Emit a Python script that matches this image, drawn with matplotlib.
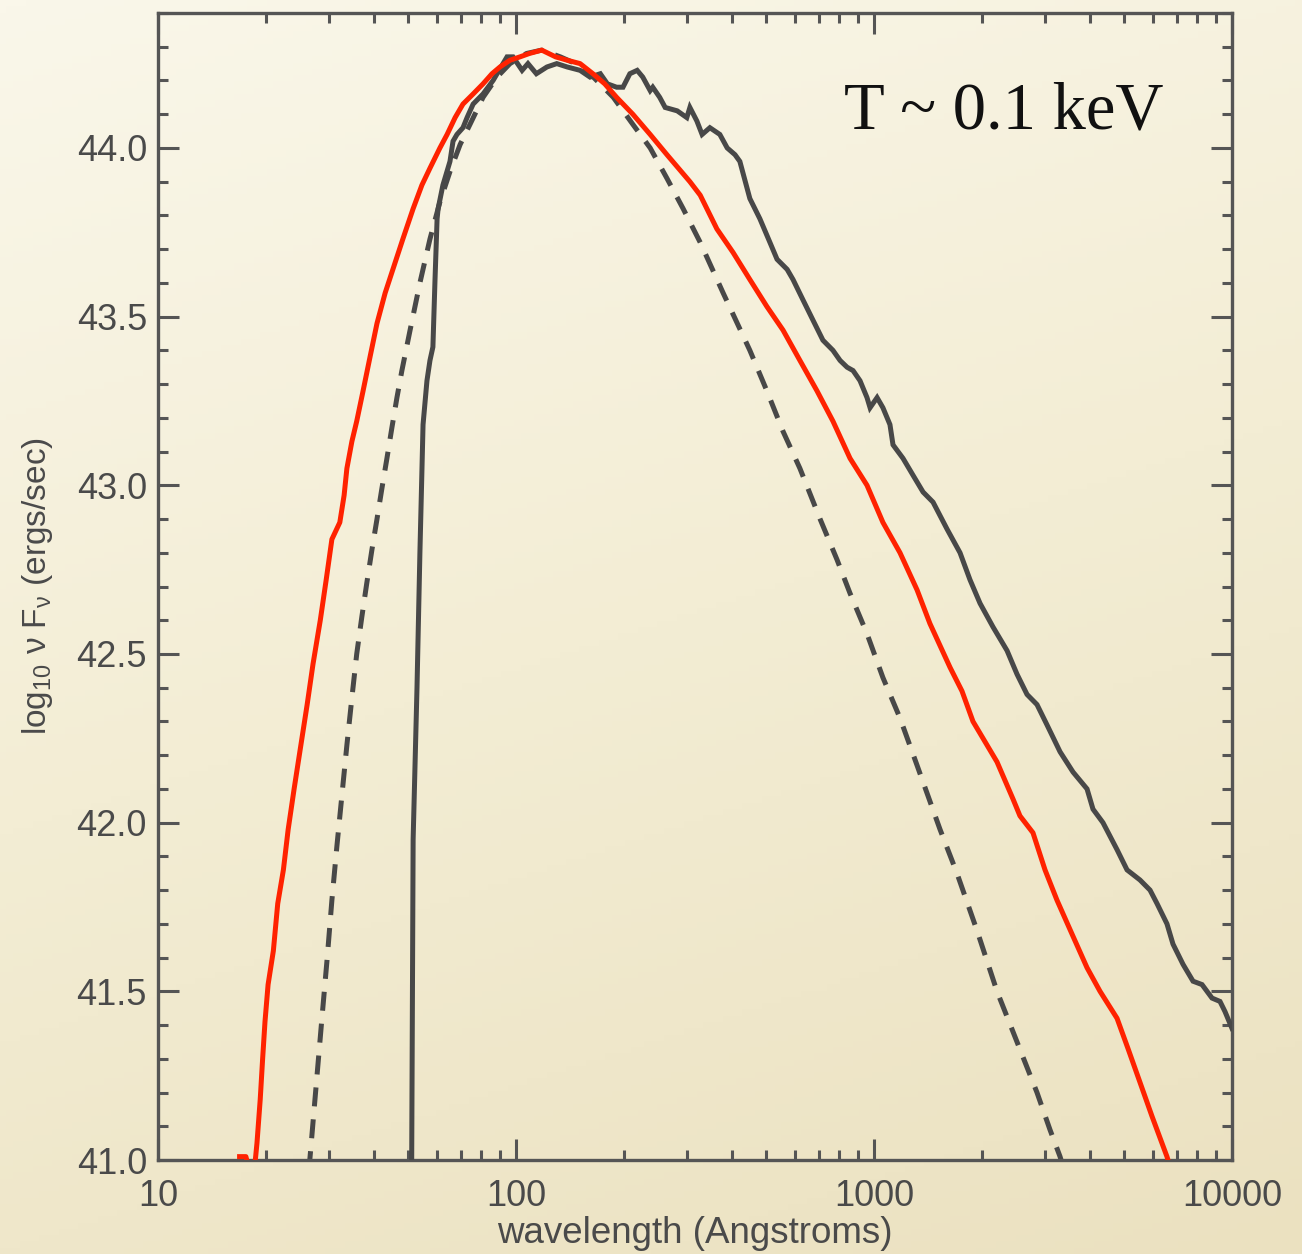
import numpy as np
import matplotlib
matplotlib.use("Agg")
import matplotlib.pyplot as plt
from matplotlib.colors import LinearSegmentedColormap
from matplotlib.ticker import FixedLocator, LogLocator, NullFormatter, MultipleLocator

plt.rcParams['font.family'] = ['Liberation Sans', 'DejaVu Sans']
plt.rcParams['mathtext.fontset'] = 'custom'
plt.rcParams['mathtext.rm'] = 'Liberation Sans'
plt.rcParams['mathtext.it'] = 'Liberation Sans:italic'

# ---------------- data (wavelength in Angstrom, log10 nu F_nu in erg/s) ----------------
red_wave = [16.9, 17.6, 18.1, 18.7, 18.9, 19.3, 19.6, 19.9, 20.3, 21.0, 21.6, 22.4, 23.1,
            24.0, 24.9, 26.1, 27.1, 28.4, 29.5, 30.6, 32.2, 33.1, 33.7, 34.8, 35.9, 37.4,
            39.1, 40.9, 43.1, 45.3, 48.3, 51.6, 54.6, 57.5, 61.3, 64.2, 67.6, 71.1, 75.9,
            80.9, 85.7, 90.2, 96.2, 102.6, 109, 118, 129, 139, 151, 164, 177, 191, 212,
            237, 264, 306, 327, 364, 404, 450, 502, 557, 621, 693, 768, 857, 956, 1059,
            1182, 1319, 1433, 1631, 1761, 1890, 2042, 2206, 2445, 2557, 2780, 3004, 3245,
            3573, 3936, 4279, 4774, 5124, 5534, 5976, 6582, 6798]
red_flux = [41.01, 41.01, 40.96, 41.00, 41.05, 41.18, 41.30, 41.41, 41.52, 41.62, 41.76,
            41.86, 41.98, 42.10, 42.21, 42.35, 42.47, 42.60, 42.72, 42.84, 42.89, 42.97,
            43.05, 43.13, 43.19, 43.28, 43.38, 43.48, 43.57, 43.64, 43.73, 43.82, 43.89,
            43.94, 44.00, 44.04, 44.09, 44.13, 44.16, 44.19, 44.22, 44.24, 44.26, 44.27,
            44.28, 44.29, 44.27, 44.26, 44.25, 44.22, 44.19, 44.15, 44.10, 44.04, 43.98,
            43.90, 43.86, 43.76, 43.69, 43.61, 43.53, 43.46, 43.37, 43.28, 43.19, 43.08,
            43.00, 42.89, 42.80, 42.69, 42.59, 42.46, 42.39, 42.30, 42.24, 42.18, 42.07,
            42.02, 41.97, 41.86, 41.77, 41.67, 41.57, 41.50, 41.42, 41.33, 41.23, 41.13,
            41.01, 40.96]

bb_wave = [26.4, 27.6, 28.7, 29.7, 30.6, 31.6, 32.7, 33.7, 34.8, 35.9, 37.1, 38.3, 39.6,
           40.9, 42.2, 43.6, 45.0, 46.5, 48.0, 50.6, 53.9, 57.5, 61.3, 65.4, 69.8, 74.4,
           80.9, 88.5, 96.2, 107, 118, 133, 154, 168, 187, 212, 237, 264, 293,
           327, 379, 450, 502, 557, 621, 707, 788, 857, 956, 1059, 1182, 1319, 1529, 1705,
           1940, 2206, 2509, 2853, 3101, 3309, 3417]
bb_flux = [40.97, 41.21, 41.42, 41.60, 41.77, 41.93, 42.09, 42.23, 42.37, 42.50, 42.61,
           42.71, 42.81, 42.90, 42.99, 43.08, 43.17, 43.26, 43.34, 43.46, 43.60, 43.73,
           43.84, 43.93, 44.01, 44.07, 44.15, 44.21, 44.25, 44.28, 44.29,
           44.27, 44.24, 44.20, 44.15, 44.07, 44.00, 43.91, 43.82, 43.72, 43.57, 43.40,
           43.28, 43.16, 43.05, 42.90, 42.78, 42.68, 42.56, 42.43, 42.31, 42.17, 41.98,
           41.85, 41.68, 41.50, 41.35, 41.20, 41.09, 41.01, 40.96]

sim_wave = [51.1, 51.6, 52.9, 53.9, 55.0, 56.4, 57.5, 58.6, 59.4, 60.2, 60.6, 62.5, 65.4,
            66.7, 68.4, 71.1, 73.0, 75.9, 80.9, 86.3, 92.0, 94.4, 98.1, 101, 104, 108,
            114, 122, 130, 139, 151, 161, 172, 180, 191, 199, 208, 218, 226, 237, 241,
            252, 261, 282, 300, 306, 320, 331, 348, 371, 389, 409, 422, 450, 480, 512,
            536, 572, 594, 633, 675, 720, 768, 804, 841, 874, 914, 956, 975, 1020, 1059,
            1108, 1130, 1205, 1285, 1371, 1462, 1600, 1739, 1854, 1978, 2150, 2353, 2509,
            2676, 2853, 3042, 3309, 3597, 3936, 4090, 4361, 4774, 5091, 5534, 5903, 6175,
            6582, 6842, 7298, 7783, 8246, 8793, 9257, 9559, 10000]
sim_flux = [40.95, 41.95, 42.40, 42.80, 43.18, 43.31, 43.37, 43.41, 43.61, 43.79, 43.82,
            43.89, 43.96, 44.02, 44.04, 44.06, 44.09, 44.13, 44.16, 44.20, 44.25, 44.27,
            44.27, 44.25, 44.23, 44.25, 44.22, 44.24, 44.25, 44.24, 44.23, 44.21, 44.22,
            44.19, 44.18, 44.18, 44.22, 44.23, 44.21, 44.17, 44.18, 44.15, 44.12, 44.11,
            44.09, 44.12, 44.08, 44.04, 44.06, 44.04, 44.00, 43.98, 43.96, 43.85, 43.79,
            43.72, 43.67, 43.64, 43.61, 43.55, 43.49, 43.43, 43.40, 43.37, 43.35, 43.34,
            43.31, 43.26, 43.23, 43.26, 43.23, 43.18, 43.12, 43.08, 43.03, 42.98, 42.95,
            42.87, 42.80, 42.72, 42.65, 42.58, 42.51, 42.44, 42.38, 42.35, 42.29, 42.21,
            42.15, 42.10, 42.04, 42.00, 41.92, 41.86, 41.83, 41.80, 41.76, 41.70, 41.64,
            41.58, 41.53, 41.52, 41.48, 41.47, 41.44, 41.39]

x_ticks = [10, 100, 1000, 10000]
x_ticklabels = ['10', '100', '1000', '10000']
y_ticks = [41.0, 41.5, 42.0, 42.5, 43.0, 43.5, 44.0]
y_ticklabels = ['41.0', '41.5', '42.0', '42.5', '43.0', '43.5', '44.0']

# ---------------- figure ----------------
W, H = 1302, 1254
fig = plt.figure(figsize=(W / 100, H / 100), dpi=100)

# beige gradient background
bg = fig.add_axes([0, 0, 1, 1], zorder=-10)
bg.set_axis_off()
yy, xx = np.mgrid[0:1:200j, 0:1:200j]
grad = 0.75 * yy + 0.25 * xx
cmap = LinearSegmentedColormap.from_list('beige', ['#faf7ea', '#f3edd4', '#ebe1c0'])
bg.imshow(grad, cmap=cmap, aspect='auto', extent=[0, 1, 0, 1], origin='upper',
          vmin=0, vmax=1)

ax = fig.add_axes([158 / W, 1 - 1160 / H, (1232 - 158) / W, (1160 - 13) / H])
ax.set_facecolor('none')

gray = '#484848'
red = '#ff2200'
lw = 3.6
ax.plot(bb_wave, bb_flux, color=gray, lw=lw, dashes=(3.8, 2.6), solid_capstyle='butt',
        dash_capstyle='butt', zorder=2)
ax.plot(sim_wave, sim_flux, color=gray, lw=lw, solid_joinstyle='miter', zorder=3)
ax.plot(red_wave, red_flux, color=red, lw=lw, zorder=4)

ax.set_xscale('log')
ax.set_xlim(10, 10000)
ax.set_ylim(41.0, 44.4)

ax.xaxis.set_major_locator(FixedLocator(x_ticks))
ax.set_xticklabels(x_ticklabels)
ax.xaxis.set_minor_locator(LogLocator(base=10, subs=np.arange(2, 10)))
ax.xaxis.set_minor_formatter(NullFormatter())
ax.yaxis.set_major_locator(FixedLocator(y_ticks))
ax.set_yticklabels(y_ticklabels)
ax.yaxis.set_minor_locator(MultipleLocator(0.1))

spine_c = '#555555'
for s in ax.spines.values():
    s.set_color(spine_c)
    s.set_linewidth(2.4)

ax.tick_params(which='both', direction='in', top=True, right=True, color=spine_c,
               width=2.2, labelcolor='#4a4a4a', labelsize=26)
ax.tick_params(which='major', length=15)
ax.tick_params(which='minor', length=7.5)
ax.tick_params(axis='y', which='major', pad=8)
ax.tick_params(axis='x', which='major', pad=14)

ax.set_xlabel('wavelength (Angstroms)', fontsize=26.5, color='#4a4a4a')
ax.xaxis.set_label_coords(0.5, -0.049)
ax.set_ylabel(r'log$_\mathrm{10}$ ν F$_\mathrm{ν}$ (ergs/sec)', fontsize=24, color='#4a4a4a')
ax.yaxis.set_label_coords(-0.096, 0.5)

ax.text(0.9358, 0.8997, 'T ~ 0.1 keV', transform=ax.transAxes, ha='right', va='baseline',
        fontsize=48, family=['Liberation Serif', 'DejaVu Serif'], color='#111111')

fig.savefig('out.png', dpi=100)
